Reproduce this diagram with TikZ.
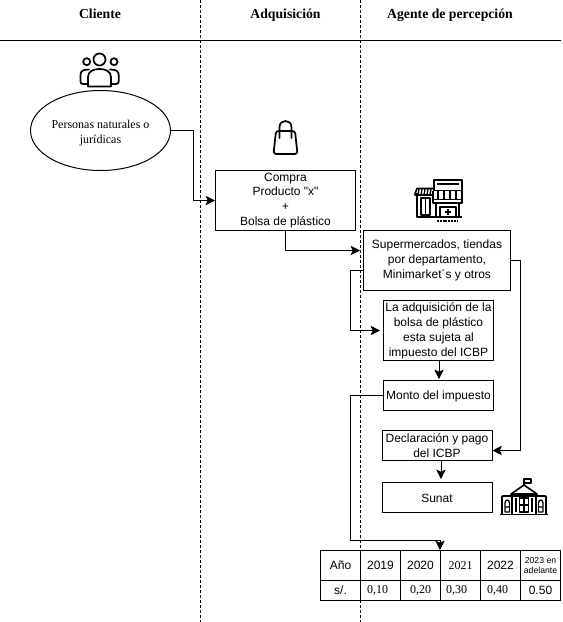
\documentclass[tikz,border=0pt]{standalone}
\usepackage{fontspec}
\setmainfont{Liberation Sans}
\newfontfamily\seriffont{Liberation Serif}
\newfontfamily\plainfont{Liberation Sans}
\usetikzlibrary{arrows.meta, positioning, shapes.geometric}

\begin{document}
\begin{tikzpicture}[
        x=0.75pt, y=-0.75pt,
        box/.style={rectangle, draw, line width=0.75pt, align=center, inner sep=0pt, execute at begin node={\rule{0pt}{8pt}}, font=\fontsize{9}{11.2}\selectfont},
        client/.style={ellipse, draw, line width=0.75pt, align=center, inner sep=0pt, minimum width=105pt, minimum height=60pt, font=\seriffont\fontsize{9}{11.2}\selectfont},
        header/.style={anchor=base, font=\seriffont\bfseries\fontsize{10.3}{12}\selectfont},
        cell/.style={rectangle, draw, line width=0.75pt, align=center, inner sep=0pt, minimum width=30pt, font=\fontsize{9}{11}\selectfont},
        lane/.style={dash pattern=on 2.25pt off 1.5pt, line width=0.75pt},
        arrow/.style={-{Stealth[length=7pt,width=7pt,inset=1.5pt]}, line width=0.75pt},
        gap/.style={shorten >=2.25pt},
        line/.style={line width=0.75pt},
        icon/.style={line width=1.3pt, line join=round, line cap=round},
        iconfine/.style={line width=1pt, line join=round}
        ]
        \useasboundingbox (0,0) rectangle (562,622);

        % Lanes
        \draw [lane] (200.5,0) -- (200.5,622);
        \draw [lane] (360.5,0) -- (360.5,622);
        \draw [line] (0,40.5) -- (561,40.5);
        \node (clientehead) [header] at (100,18.5) {Cliente};
        \node (adquisicion) [header] at (285.5,18.5) {Adquisición};
        \node (agente) [header] at (450,18.5) {Agente de percepción};

        % Nodes
        \node (personas) [client] at (100.5,130.5) {\rule{0pt}{10.5pt}Personas naturales o\\jurídicas};
        \node (compra) [box, minimum width=105pt, minimum height=45pt] at (285.5,200.5) {Compra\\{\plainfont Producto "x"}\\+\\Bolsa de plástico};
        \node (super) [box, minimum width=110.25pt, minimum height=45pt] at (437,260.5) {Supermercados, tiendas\\por departamento,\\Minimarket´s y otros};
        \node (sujeta) [box, minimum width=82.5pt, minimum height=45pt] at (438.5,330.5) {La adquisición de la\\bolsa de plástico\\esta sujeta al\\impuesto del ICBP};
        \node (monto) [box, minimum width=82.5pt, minimum height=22.5pt] at (438.5,395.5) {Monto del impuesto};
        \node (declaracion) [box, minimum width=82.5pt, minimum height=22.5pt] at (437,445.5) {Declaración y pago\\del ICBP};
        \node (sunat) [box, minimum width=82.5pt, minimum height=22.5pt] at (437,497.5) {Sunat};

        % Table
        \node (anio) [cell, minimum height=22.5pt] at (340.5,565.5) {Año};
        \node (y2019) [cell, minimum height=22.5pt] at (380.5,565.5) {2019};
        \node (y2020) [cell, minimum height=22.5pt] at (420.5,565.5) {2020};
        \node (y2021) [cell, minimum height=22.5pt] at (460.5,565.5) {\seriffont 2021};
        \node (y2022) [cell, minimum height=22.5pt] at (500.5,565.5) {2022};
        \node (y2023) [cell, minimum height=22.5pt, font=\fontsize{6.5}{8}\selectfont] at (540.5,565.5) {2023 en\\adelante};
        \node (soles) [cell, minimum height=15pt] at (340.5,590.5) {s/.};
        \node (v2019) [cell, minimum height=15pt] at (380.5,590.5) {\seriffont 0,10\hspace*{4.5pt}};
        \node (v2020) [cell, minimum height=15pt] at (420.5,590.5) {\seriffont 0,20};
        \node (v2021) [cell, minimum height=15pt] at (460.5,590.5) {\seriffont 0,30\hspace*{6pt}};
        \node (v2022) [cell, minimum height=15pt] at (500.5,590.5) {\seriffont 0,40\hspace*{4.5pt}};
        \node (v2023) [cell, minimum height=15pt] at (540.5,590.5) {0.50};

        % Arrows
        \draw [arrow] (personas.east) -| (193,200.5) -- (compra.west);
        \draw [arrow, gap] (compra.south) |- (super.west |- 0,250.5);
        \draw [arrow, gap] (super.west |- 0,270.5) -| (350.5,330.5) -- (sujeta.west);
        \draw [arrow, shorten >=0.75pt] (sujeta.south -| 439,0) -- (monto.north -| 439,0);
        \draw [arrow] (monto.west) -| (350.5,540.5) -| (y2021.north west);
        \draw [arrow] (super.east) -| (520.5,450.5) -- (declaracion.east |- 0,450.5);
        \draw [arrow, gap] (declaracion.south -| 441,0) -- (sunat.north -| 441,0);

        % People icon
        \draw [icon] (99.5,59.5) circle (6) (86.7,61.7) circle (3.5) (114,61.7) circle (3.5);
        \draw [icon] (88,86.5) -- (88,77) .. controls (88,71) and (94,69) .. (99.5,69) .. controls (105,69) and (111,71) .. (111,77) -- (111,86.5) -- cycle;
        \draw [icon] (88,84) -- (83,84) .. controls (81,84) and (80.5,83) .. (80.5,81) -- (80.5,75) .. controls (80.5,71) and (83,69.5) .. (89,69.5);
        \draw [icon] (111,84) -- (116,84) .. controls (118,84) and (118.7,83) .. (118.7,81) -- (118.7,75) .. controls (118.7,71) and (116,69.5) .. (110,69.5);

        % Bag icon
        \draw [icon, rounded corners=2pt] (276,131) -- (295,131) -- (297.5,154) -- (273.5,154) -- cycle;
        \draw [icon] (279.5,138) -- (279.5,127) .. controls (279.5,119) and (291.5,119) .. (291.5,127) -- (291.5,138);

        % Store icon
        \draw [iconfine, line width=1.2pt] (417,193) -- (417,217) -- (462,217) (434,180) rectangle (462,190.5);
        \draw [iconfine, line width=1.2pt] (414.5,195) -- (417,188.5) -- (433,188.5) (433,195) -- (414.5,195);
        \foreach \px in {419,422,425,428,431} \draw [iconfine] (\px,189) -- (\px-1,195);
        \draw [iconfine, line width=1.2pt] (421,198) rectangle (430,215) (425.5,198) -- (425.5,215);
        \draw [iconfine, line width=1.2pt] (433,191) -- (433,203) -- (462,203) -- (462,191) (433,199.5) -- (462,199.5);
        \foreach \px in {438,444,450,456} \draw [iconfine, line width=1.4pt] (\px,191) -- (\px,199);
        \draw [iconfine] (437,184) -- (459,184);
        \draw [iconfine, line width=1.2pt] (436,203) -- (436,217) (459,203) -- (459,217) (440,207) rectangle (456,217) (448,209) -- (448,215) (445,212) -- (451,212);
        \draw [line width=1pt, dash pattern=on 1.5pt off 0.6pt] (437,221) -- (457,221);

        % Building icon
        \draw [iconfine] (524,485) -- (524,479) -- (531,479) -- (531,483) -- (524,483);
        \draw [iconfine, line width=1.2pt] (524,485) -- (511,494) -- (537,494) -- cycle;
        \draw [iconfine, line width=1.2pt] (502,496) -- (546,496) (502,496) -- (502,514) (546,496) -- (546,514) (499.5,514.5) -- (547.5,514.5);
        \draw [iconfine, line width=1.2pt] (512,494) -- (512,514) (536,494) -- (536,514) (516,498) -- (516,512) (532,498) -- (532,512);
        \draw [iconfine] (519.5,498) rectangle (528.5,512) (524,498) -- (524,512) (519.5,505) -- (528.5,505);
        \draw [iconfine] (505,512) -- (505,503) .. controls (505,499) and (509.5,499) .. (509.5,503) -- (509.5,512) -- cycle (505,507) -- (509.5,507);
        \draw [iconfine] (538.5,512) -- (538.5,503) .. controls (538.5,499) and (543,499) .. (543,503) -- (543,512) -- cycle (538.5,507) -- (543,507);

    \end{tikzpicture}
\end{document}
